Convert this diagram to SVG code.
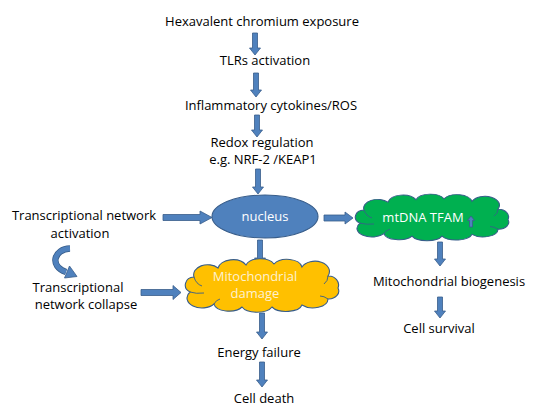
<svg xmlns="http://www.w3.org/2000/svg" width="550" height="408" viewBox="0 0 550 408">
<defs>
<style>
text{font-family:"Open Sans","Liberation Sans",sans-serif;font-size:13px;fill:#000;text-anchor:middle}
.w{fill:#ffffff}
.ly{fill:#fdf1d2}
.arr{fill:#4f81bd;stroke:#385d8a;stroke-width:0.8}
.cl{stroke:#385d8a;stroke-width:1.1;vector-effect:non-scaling-stroke}
.in{fill:none;stroke:#385d8a;stroke-width:0.9;vector-effect:non-scaling-stroke}
</style>
<path id="cloud" d="M8,30 A9,8 0 0 1 12,15 A14,10 0 0 1 36,6 A15,10 0 0 1 64,3 A15,9 0 0 1 92,2 A15,9 0 0 1 120,5 A14,10 0 0 1 146,14 A10,9 0 0 1 156,26 A10,8 0 0 1 146,37 A15,9 0 0 1 120,43 A16,8 0 0 1 90,45 A16,8 0 0 1 60,45 A15,8 0 0 1 32,42 A12,8 0 0 1 8,30 Z"/>
<path id="cloudin" d="M12,15 Q14,22 20,24 M8,30 Q14,32 22,31 M32,42 Q34,38 38,37 M146,14 Q146,19 142,22 M146,37 Q142,34 138,34"/>
</defs>
<rect width="550" height="408" fill="#ffffff"/>

<g id="connectors">
<polygon class="arr" points="252.5,33 257.5,33 257.5,48 260.5,48 255,55 249.5,48 252.5,48"/>
<polygon class="arr" points="253.5,73 258.5,73 258.5,90 261.5,90 256,97 250.5,90 253.5,90"/>
<polygon class="arr" points="254.5,115 259.5,115 259.5,130 262.5,130 257,137 251.5,130 254.5,130"/>
<polygon class="arr" points="255.5,169 260.5,169 260.5,187 263.5,187 258,194 252.5,187 255.5,187"/>
<polygon class="arr" points="257.5,240 262.5,240 262.5,258 265.5,258 260,265 254.5,258 257.5,258"/>
<polygon class="arr" points="259.5,313 264.5,313 264.5,332 267.5,332 262,339 256.5,332 259.5,332"/>
<polygon class="arr" points="259.5,362 264.5,362 264.5,380 267.5,380 262,387 256.5,380 259.5,380"/>
<polygon class="arr" points="437.5,242 442.5,242 442.5,259 445.5,259 440,266 434.5,259 437.5,259"/>
<polygon class="arr" points="437.5,297 442.5,297 442.5,311 445.5,311 440,318 434.5,311 437.5,311"/>
<polygon class="arr" points="163,214.5 200,214.5 200,211 212,217.5 200,224 200,220.5 163,220.5"/>
<polygon class="arr" points="324,215 345,215 345,212 353,218 345,224 345,221 324,221"/>
<polygon class="arr" points="141,289.5 173,289.5 173,285.5 181,292.5 173,299.5 173,295.5 141,295.5"/>
<path d="M70,248.5 C54,249 49,266 66,272" fill="none" stroke="#385d8a" stroke-width="6.4"/>
<path d="M70,248.5 C54,249 49,266 66,272" fill="none" stroke="#4f81bd" stroke-width="4.8"/>
<polygon class="arr" points="69.5,266 77,276.5 64.5,278"/>
</g>

<g id="n-hex"><text x="262" y="26">Hexavalent chromium exposure</text></g>
<g id="n-tlr"><text x="265" y="65">TLRs activation</text></g>
<g id="n-infl"><text x="271" y="110">Inflammatory cytokines/ROS</text></g>
<g id="n-redox"><text x="262" y="147">Redox regulation</text><text x="263" y="164">e.g. NRF-2 /KEAP1</text></g>
<g id="n-nucleus">
<ellipse cx="265" cy="216.5" rx="53" ry="21.5" fill="#4f81bd" stroke="#385d8a" stroke-width="1.1"/>
<text class="w" x="265" y="221">nucleus</text>
</g>
<g id="n-tna"><text x="84" y="220">Transcriptional network</text><text x="80" y="238">activation</text></g>
<g id="n-tnc"><text x="78" y="292">Transcriptional</text><text x="86" y="309">network collapse</text></g>
<g id="n-mito">
<use href="#cloud" transform="translate(182,262)" fill="#ffc000" class="cl"/>
<use href="#cloudin" transform="translate(182,262)" class="in"/>
<text class="ly" x="255" y="281">Mitochondrial</text>
<text class="ly" x="255" y="298">damage</text>
</g>
<g id="n-tfam">
<use href="#cloud" transform="translate(352,197) scale(1,0.87)" fill="#00b050" class="cl"/>
<use href="#cloudin" transform="translate(352,197) scale(1,0.87)" class="in"/>
<text class="w" x="423" y="222">mtDNA TFAM</text>
<polygon class="arr" points="471,216 474.5,220.5 472.5,220.5 472.5,227 469.5,227 469.5,220.5 467.5,220.5"/>
</g>
<g id="n-bio"><text x="449" y="286">Mitochondrial biogenesis</text></g>
<g id="n-surv"><text x="439" y="333">Cell survival</text></g>
<g id="n-energy"><text x="259" y="357">Energy failure</text></g>
<g id="n-death"><text x="264" y="403">Cell death</text></g>
</svg>
